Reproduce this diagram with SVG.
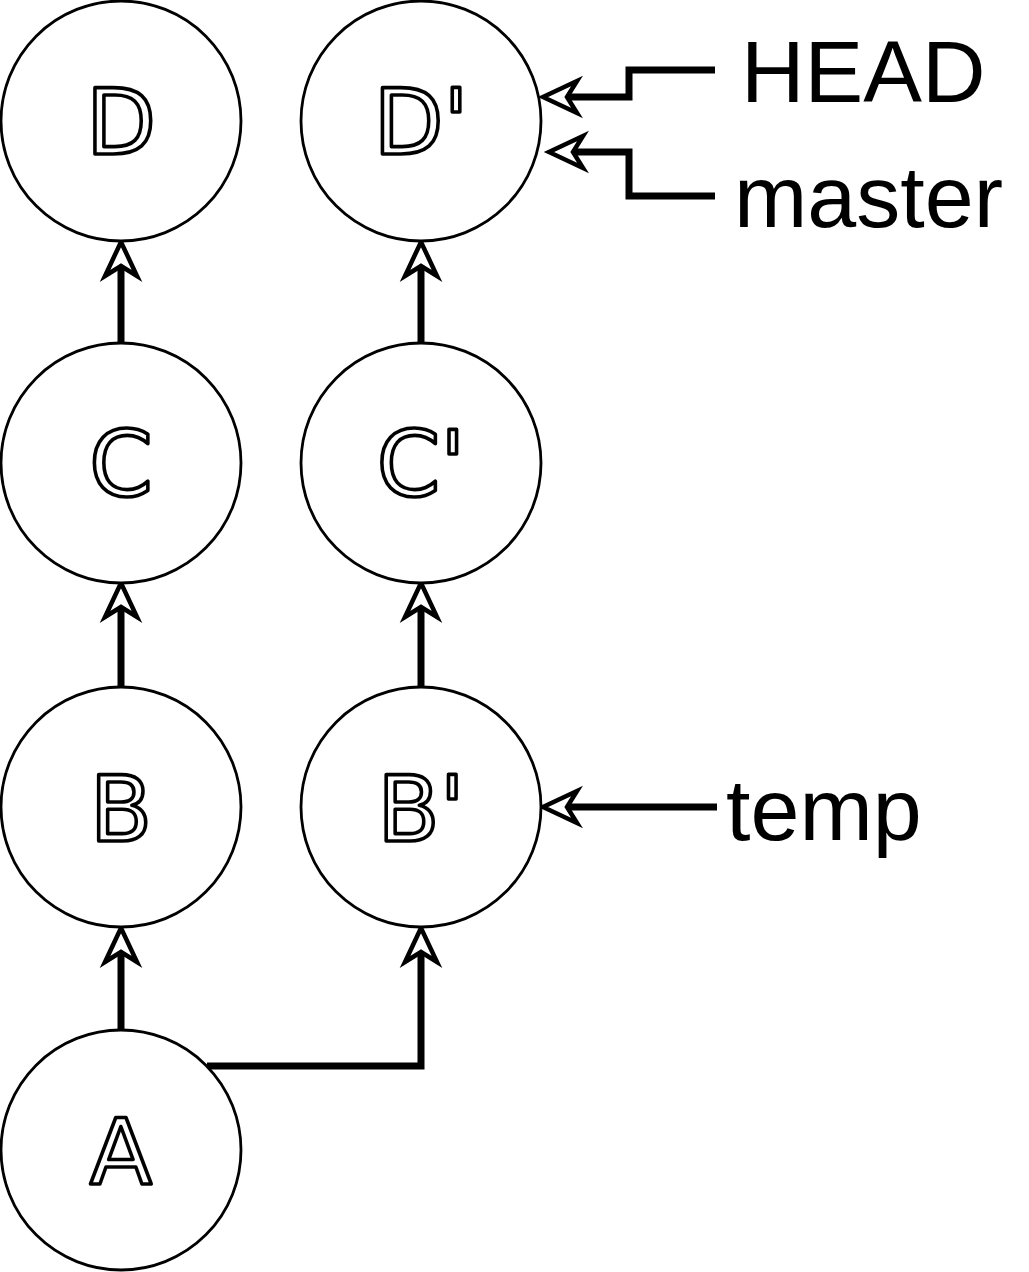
<svg xmlns="http://www.w3.org/2000/svg" width="1029" height="1272" viewBox="0 0 1029 1272">
  <style>
    .node circle { fill: #fff; stroke: #000; stroke-width: 2.8; }
    .node text { font-family: "DejaVu Sans", sans-serif; font-size: 91px; fill: #fff; stroke: #000; stroke-width: 3.6; stroke-linejoin: round; text-anchor: middle; }
    .conn { fill: none; stroke: #000; stroke-width: 7; stroke-linejoin: miter; marker-end: url(#arr); }
    .label { font-family: "Liberation Sans", Arial, sans-serif; font-size: 88px; fill: #000; }
  </style>
  <defs>
    <marker id="arr" markerUnits="userSpaceOnUse" viewBox="-30 -24 44 48" refX="0" refY="0" markerWidth="44" markerHeight="48" orient="auto" overflow="visible">
      <path d="M24,0 L-10,-16 L0,0 L-10,16 Z" fill="#fff" stroke="#000" stroke-width="4.5" stroke-linejoin="miter"/>
    </marker>
  </defs>

  <g id="connectors">
    <path class="conn" d="M121,343 V266"/>
    <path class="conn" d="M421,343 V266"/>
    <path class="conn" d="M121,687 V607"/>
    <path class="conn" d="M421,687 V607"/>
    <path class="conn" d="M121,1030 V952"/>
    <path class="conn" d="M207,1066 H421 V952"/>
    <path class="conn" d="M715,70 H629 V97 H567"/>
    <path class="conn" d="M715,196 H629 V152 H573"/>
    <path class="conn" d="M717,807 H567"/>
  </g>

  <g id="node-D" class="node">
    <circle cx="121" cy="121" r="120"/>
    <text x="121" y="154">D</text>
  </g>
  <g id="node-D2" class="node">
    <circle cx="421" cy="121" r="120"/>
    <text x="421" y="154">D'</text>
  </g>
  <g id="node-C" class="node">
    <circle cx="121" cy="463" r="120"/>
    <text x="121" y="496">C</text>
  </g>
  <g id="node-C2" class="node">
    <circle cx="421" cy="463" r="120"/>
    <text x="421" y="496">C'</text>
  </g>
  <g id="node-B" class="node">
    <circle cx="121" cy="807" r="120"/>
    <text x="121" y="841">B</text>
  </g>
  <g id="node-B2" class="node">
    <circle cx="421" cy="807" r="120"/>
    <text x="421" y="841">B'</text>
  </g>
  <g id="node-A" class="node">
    <circle cx="121" cy="1150" r="120"/>
    <text x="121" y="1184">A</text>
  </g>

  <g id="label-HEAD"><text class="label" x="741" y="102">HEAD</text></g>
  <g id="label-master"><text class="label" x="734" y="227">master</text></g>
  <g id="label-temp"><text class="label" x="726" y="840">temp</text></g>
</svg>
